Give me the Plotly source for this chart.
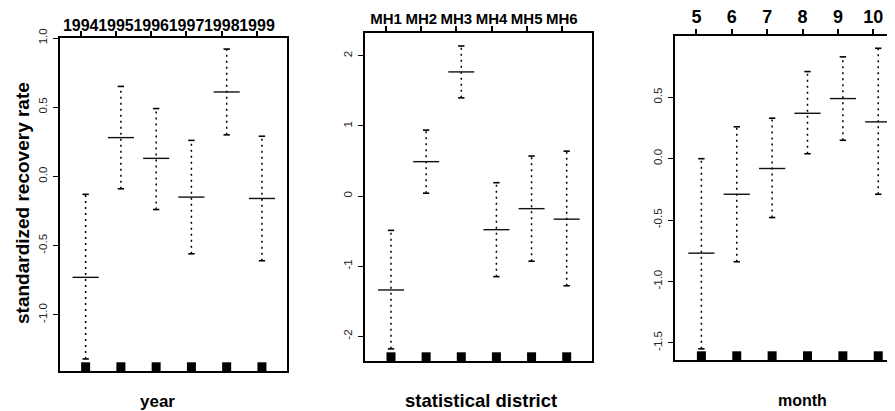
import plotly.graph_objects as go

# ---------------- data ----------------
years = ["1994", "1995", "1996", "1997", "1998", "1999"]
year_mean = [-0.73, 0.28, 0.13, -0.15, 0.61, -0.16]
year_upper = [-0.13, 0.65, 0.49, 0.26, 0.92, 0.29]
year_lower = [-1.32, -0.09, -0.24, -0.56, 0.30, -0.61]

districts = ["MH1", "MH2", "MH3", "MH4", "MH5", "MH6"]
district_mean = [-1.34, 0.49, 1.77, -0.48, -0.18, -0.33]
district_upper = [-0.49, 0.94, 2.14, 0.19, 0.57, 0.64]
district_lower = [-2.18, 0.04, 1.40, -1.15, -0.93, -1.28]

months = ["5", "6", "7", "8", "9", "10"]
month_mean = [-0.77, -0.29, -0.08, 0.37, 0.49, 0.30]
month_upper = [0.00, 0.26, 0.33, 0.71, 0.83, 0.90]
month_lower = [-1.55, -0.84, -0.48, 0.04, 0.15, -0.29]

year_yticks = [-1.0, -0.5, 0.0, 0.5, 1.0]
year_yticktext = ["-1.0", "-0.5", "0.0", "0.5", "1.0"]
district_yticks = [-2, -1, 0, 1, 2]
district_yticktext = ["-2", "-1", "0", "1", "2"]
month_yticks = [-1.5, -1.0, -0.5, 0.0, 0.5]
month_yticktext = ["-1.5", "-1.0", "-0.5", "0.0", "0.5"]

# page offsets the figure by the body margin
PAD = 8
W, H = 895 - PAD, 411 - PAD
FONT = "Liberation Sans, Arial, Helvetica, sans-serif"


def px(sx):
    return (sx - PAD) / W


def py(sy):
    return 1 - (sy - PAD) / H


panels = [
    dict(cats=years, mean=year_mean, up=year_upper, lo=year_lower,
         xdom=(60, 287), ydom=(38, 371), yrange=(-1.407, 1.0),
         xrange=(-0.587, 5.851), yt=year_yticks, ytt=year_yticktext,
         xfont=16, xstand=-6, mirror=True),
    dict(cats=districts, mean=district_mean, up=district_upper, lo=district_lower,
         xdom=(365, 592), ydom=(33, 361), yrange=(-2.353, 2.325),
         xrange=(-0.60, 5.86), yt=district_yticks, ytt=district_yticktext,
         xfont=15, xstand=-4, mirror=True),
    dict(cats=months, mean=month_mean, up=month_upper, lo=month_lower,
         xdom=(675, 895), ydom=(36, 360), yrange=(-1.641, 1.0),
         xrange=(-0.606, 5.614), yt=month_yticks, ytt=month_yticktext,
         xfont=18, xstand=-1, mirror=False),
]

OFFSET = 0.14     # bars sit slightly right of the tick
CAP = 0.09        # half width of caps
MEANW = 0.37      # half width of mean line

fig = go.Figure()
layout = dict(width=W, height=H, margin=dict(l=0, r=0, t=0, b=0, autoexpand=False),
              paper_bgcolor="white", plot_bgcolor="white", showlegend=False,
              font=dict(family=FONT, color="black"))

for k, p in enumerate(panels):
    sfx = "" if k == 0 else str(k + 1)
    xa, ya = "x" + sfx, "y" + sfx
    pos = [i + OFFSET for i in range(len(p["cats"]))]

    vx, vy, cx, cy, mx, my = [], [], [], [], [], []
    for x, m, u, l in zip(pos, p["mean"], p["up"], p["lo"]):
        vx += [x, x, None]; vy += [l, u, None]
        cx += [x - CAP, x + CAP, None, x - CAP, x + CAP, None]
        cy += [u, u, None, l, l, None]
        mx += [x - MEANW, x + MEANW, None]; my += [m, m, None]

    fig.add_trace(go.Scatter(x=vx, y=vy, mode="lines", xaxis=xa, yaxis=ya,
                             line=dict(color="black", width=1.5, dash="2px,4px"),
                             hoverinfo="skip"))
    fig.add_trace(go.Scatter(x=cx, y=cy, mode="lines", xaxis=xa, yaxis=ya,
                             line=dict(color="black", width=1.6), hoverinfo="skip"))
    fig.add_trace(go.Scatter(x=mx, y=my, mode="lines", xaxis=xa, yaxis=ya,
                             line=dict(color="#111", width=1.4), hoverinfo="skip"))
    # rug squares sitting on the bottom frame
    ppu = (p["ydom"][1] - p["ydom"][0]) / (p["yrange"][1] - p["yrange"][0])
    rug_y = p["yrange"][0] + 4.2 / ppu
    fig.add_trace(go.Scatter(x=pos, y=[rug_y] * len(pos), mode="markers",
                             xaxis=xa, yaxis=ya,
                             marker=dict(symbol="square", size=9, color="black",
                                         line=dict(width=0)),
                             hoverinfo="skip"))

    layout["xaxis" + sfx] = dict(
        domain=[px(p["xdom"][0]), min(1.0, px(p["xdom"][1]))], anchor=ya, side="top",
        range=list(p["xrange"]), tickmode="array", automargin=False,
        tickvals=list(range(len(p["cats"]))), ticktext=p["cats"], tickangle=0,
        ticklabelstandoff=p["xstand"],
        ticks="outside", ticklen=5, tickwidth=1.5, tickcolor="black",
        showline=True, linewidth=2, linecolor="black", mirror=True,
        showgrid=False, zeroline=False,
        tickfont=dict(family=FONT, size=p["xfont"], color="black", weight="bold"))
    layout["yaxis" + sfx] = dict(
        domain=[py(p["ydom"][1]), py(p["ydom"][0])], anchor=xa,
        range=list(p["yrange"]), tickmode="array", tickvals=p["yt"], automargin=False,
        ticktext=p["ytt"], tickangle=-90, ticklabelstandoff=1,
        ticks="outside", ticklen=5, tickwidth=1.2, tickcolor="black",
        showline=True, linewidth=2, linecolor="black", mirror=p["mirror"],
        showgrid=False, zeroline=False,
        tickfont=dict(family=FONT, size=11.5, color="#222"))

ann = []
for text, cx, cy, size in [("year", 157.5, 401, 17),
                           ("statistical district", 481, 400, 18.5),
                           ("month", 802, 400, 16)]:
    ann.append(dict(text=text, x=px(cx), y=py(cy), xref="paper", yref="paper",
                    xanchor="center", yanchor="middle", showarrow=False,
                    font=dict(family=FONT, size=size, color="black", weight="bold")))
ann.append(dict(text="standardized recovery rate", x=px(22), y=py(203),
                xref="paper", yref="paper", xanchor="center", yanchor="middle",
                textangle=-90, showarrow=False,
                font=dict(family=FONT, size=19, color="black", weight="bold")))
layout["annotations"] = ann

fig.update_layout(**layout)
fig.write_html("out.html")
